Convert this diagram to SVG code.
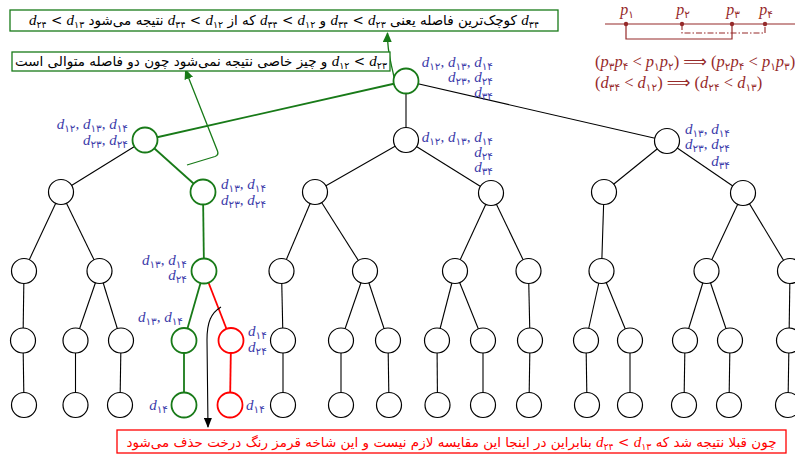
<svg xmlns="http://www.w3.org/2000/svg" width="795" height="456" viewBox="0 0 795 456">
  <style>
    .e { stroke: #000; stroke-width: 1.1; fill: none; }
    .eg { stroke: #187a18; stroke-width: 1.8; fill: none; }
    .er { stroke: #ff0000; stroke-width: 1.8; fill: none; }
    .n { fill: #fff; stroke: #000; stroke-width: 1.2; }
    .ng { fill: #fff; stroke: #187a18; stroke-width: 1.8; }
    .nr { fill: #fff; stroke: #ff0000; stroke-width: 1.8; }
    .lb { fill: #3c3caa; font-family: "Liberation Serif", serif; font-size: 15px; }
    .dk { fill: #962a2a; font-family: "Liberation Serif", serif; font-size: 16px; }
    .fx { font-size: 16.5px; }
    .fx .s { font-size: 10.5px; baseline-shift: -2.5px; }
    .d { font-style: italic; }
    .s { font-family: "DejaVu Sans", sans-serif; font-size: 10.5px; baseline-shift: -3px; }
    .fa { font-family: "DejaVu Sans", sans-serif; font-size: 13.5px; fill: #000; }
    .fm { font-family: "Liberation Serif", serif; font-style: italic; font-size: 15px; }
    .fs { font-family: "DejaVu Sans", sans-serif; font-size: 9.5px; baseline-shift: -3px; font-style: normal; }
    .box-g { fill: #fff; stroke: #187a18; stroke-width: 1.3; }
    .box-r { fill: #fff; stroke: #ff0000; stroke-width: 1.3; }
  </style>
  <defs>
    <marker id="ahG" markerUnits="userSpaceOnUse" markerWidth="10" markerHeight="9" refX="9" refY="4.5" orient="auto">
      <path d="M0,0 L10,4.5 L0,9 z" fill="#187a18"/>
    </marker>
    <marker id="ahK" markerUnits="userSpaceOnUse" markerWidth="10" markerHeight="8" refX="9" refY="4" orient="auto">
      <path d="M0,0 L10,4 L0,8 z" fill="#000"/>
    </marker>
  </defs>

  <rect width="795" height="456" fill="#fff"/>

  <!-- tree edges -->
  <g id="edges">
    <line class="e" x1="406" y1="81" x2="406" y2="140"/>
    <line class="e" x1="406" y1="81" x2="667" y2="141"/>
    <line class="e" x1="145" y1="140" x2="61" y2="192"/>
    <line class="e" x1="406" y1="140" x2="315" y2="192"/>
    <line class="e" x1="406" y1="140" x2="491" y2="193"/>
    <line class="e" x1="667" y1="141" x2="604" y2="192"/>
    <line class="e" x1="667" y1="141" x2="743" y2="193"/>
    <line class="e" x1="61" y1="192" x2="24" y2="271"/>
    <line class="e" x1="61" y1="192" x2="99.5" y2="271"/>
    <line class="e" x1="315" y1="192" x2="281.5" y2="271"/>
    <line class="e" x1="315" y1="192" x2="365" y2="271"/>
    <line class="e" x1="491" y1="193" x2="455" y2="271"/>
    <line class="e" x1="491" y1="193" x2="528.5" y2="271"/>
    <line class="e" x1="604" y1="192" x2="601.5" y2="271"/>
    <line class="e" x1="743" y1="193" x2="706.5" y2="271"/>
    <line class="e" x1="743" y1="193" x2="790" y2="271"/>
    <line class="e" x1="24" y1="271" x2="23" y2="340.5"/>
    <line class="e" x1="99.5" y1="271" x2="75.5" y2="340.5"/>
    <line class="e" x1="99.5" y1="271" x2="121" y2="340.5"/>
    <line class="e" x1="281.5" y1="271" x2="283" y2="340.5"/>
    <line class="e" x1="365" y1="271" x2="341" y2="340.5"/>
    <line class="e" x1="365" y1="271" x2="388" y2="340.5"/>
    <line class="e" x1="455" y1="271" x2="437" y2="340.5"/>
    <line class="e" x1="455" y1="271" x2="483" y2="340.5"/>
    <line class="e" x1="528.5" y1="271" x2="530" y2="340.5"/>
    <line class="e" x1="601.5" y1="271" x2="586" y2="340.5"/>
    <line class="e" x1="601.5" y1="271" x2="630" y2="340.5"/>
    <line class="e" x1="706.5" y1="271" x2="685" y2="340.5"/>
    <line class="e" x1="706.5" y1="271" x2="730" y2="340.5"/>
    <line class="e" x1="790" y1="271" x2="789" y2="340.5"/>
    <line class="e" x1="23" y1="340.5" x2="24" y2="405"/>
    <line class="e" x1="75.5" y1="340.5" x2="75.5" y2="405"/>
    <line class="e" x1="121" y1="340.5" x2="120" y2="405"/>
    <line class="e" x1="283" y1="340.5" x2="283" y2="405"/>
    <line class="e" x1="341" y1="340.5" x2="341" y2="405"/>
    <line class="e" x1="388" y1="340.5" x2="389" y2="405"/>
    <line class="e" x1="437" y1="340.5" x2="437.5" y2="405"/>
    <line class="e" x1="483" y1="340.5" x2="483" y2="405"/>
    <line class="e" x1="530" y1="340.5" x2="529" y2="405"/>
    <line class="e" x1="586" y1="340.5" x2="587" y2="405"/>
    <line class="e" x1="630" y1="340.5" x2="630" y2="405"/>
    <line class="e" x1="685" y1="340.5" x2="684" y2="405"/>
    <line class="e" x1="730" y1="340.5" x2="729" y2="405"/>
    <line class="e" x1="789" y1="340.5" x2="788" y2="405"/>
    <!-- explored path -->
    <line class="eg" x1="406" y1="81" x2="145" y2="140"/>
    <line class="eg" x1="145" y1="140" x2="203" y2="192"/>
    <line class="eg" x1="203" y1="192" x2="204" y2="271"/>
    <line class="eg" x1="204" y1="271" x2="184" y2="340.5"/>
    <line class="eg" x1="184" y1="340.5" x2="184" y2="405"/>
    <!-- pruned branch -->
    <line class="er" x1="204" y1="271" x2="231" y2="340.5"/>
    <line class="er" x1="231" y1="340.5" x2="230" y2="405"/>
  </g>

  <!-- nodes -->
  <g id="n-root"><circle class="ng" cx="406" cy="81" r="12.5"/></g>
  <g id="n-1a"><circle class="ng" cx="145" cy="140" r="12.5"/></g>
  <g id="n-1b"><circle class="n" cx="406" cy="140" r="12.5"/></g>
  <g id="n-1c"><circle class="n" cx="667" cy="141" r="12.5"/></g>
  <g id="n-2a"><circle class="n" cx="61" cy="192" r="12.5"/></g>
  <g id="n-2b"><circle class="ng" cx="203" cy="192" r="12.5"/></g>
  <g id="n-2c"><circle class="n" cx="315" cy="192" r="12.5"/></g>
  <g id="n-2d"><circle class="n" cx="491" cy="193" r="12.5"/></g>
  <g id="n-2e"><circle class="n" cx="604" cy="192" r="12.5"/></g>
  <g id="n-2f"><circle class="n" cx="743" cy="193" r="12.5"/></g>
  <g id="n-3a"><circle class="n" cx="24" cy="271" r="12.5"/></g>
  <g id="n-3b"><circle class="n" cx="99.5" cy="271" r="12.5"/></g>
  <g id="n-3c"><circle class="ng" cx="204" cy="271" r="12.5"/></g>
  <g id="n-3d"><circle class="n" cx="281.5" cy="271" r="12.5"/></g>
  <g id="n-3e"><circle class="n" cx="365" cy="271" r="12.5"/></g>
  <g id="n-3f"><circle class="n" cx="455" cy="271" r="12.5"/></g>
  <g id="n-3g"><circle class="n" cx="528.5" cy="271" r="12.5"/></g>
  <g id="n-3h"><circle class="n" cx="601.5" cy="271" r="12.5"/></g>
  <g id="n-3i"><circle class="n" cx="706.5" cy="271" r="12.5"/></g>
  <g id="n-3j"><circle class="n" cx="790" cy="271" r="12.5"/></g>
  <g id="n-4a"><circle class="n" cx="23" cy="340.5" r="12.5"/></g>
  <g id="n-4b"><circle class="n" cx="75.5" cy="340.5" r="12.5"/></g>
  <g id="n-4c"><circle class="n" cx="121" cy="340.5" r="12.5"/></g>
  <g id="n-4d"><circle class="ng" cx="184" cy="340.5" r="12.5"/></g>
  <g id="n-4e"><circle class="nr" cx="231" cy="340.5" r="12.5"/></g>
  <g id="n-4f"><circle class="n" cx="283" cy="340.5" r="12.5"/></g>
  <g id="n-4g"><circle class="n" cx="341" cy="340.5" r="12.5"/></g>
  <g id="n-4h"><circle class="n" cx="388" cy="340.5" r="12.5"/></g>
  <g id="n-4i"><circle class="n" cx="437" cy="340.5" r="12.5"/></g>
  <g id="n-4j"><circle class="n" cx="483" cy="340.5" r="12.5"/></g>
  <g id="n-4k"><circle class="n" cx="530" cy="340.5" r="12.5"/></g>
  <g id="n-4l"><circle class="n" cx="586" cy="340.5" r="12.5"/></g>
  <g id="n-4m"><circle class="n" cx="630" cy="340.5" r="12.5"/></g>
  <g id="n-4n"><circle class="n" cx="685" cy="340.5" r="12.5"/></g>
  <g id="n-4o"><circle class="n" cx="730" cy="340.5" r="12.5"/></g>
  <g id="n-4p"><circle class="n" cx="789" cy="340.5" r="12.5"/></g>
  <g id="n-5a"><circle class="n" cx="24" cy="405" r="12.5"/></g>
  <g id="n-5b"><circle class="n" cx="75.5" cy="405" r="12.5"/></g>
  <g id="n-5c"><circle class="n" cx="120" cy="405" r="12.5"/></g>
  <g id="n-5d"><circle class="ng" cx="184" cy="405" r="12.5"/></g>
  <g id="n-5e"><circle class="nr" cx="230" cy="405" r="12.5"/></g>
  <g id="n-5f"><circle class="n" cx="283" cy="405" r="12.5"/></g>
  <g id="n-5g"><circle class="n" cx="341" cy="405" r="12.5"/></g>
  <g id="n-5h"><circle class="n" cx="389" cy="405" r="12.5"/></g>
  <g id="n-5i"><circle class="n" cx="437.5" cy="405" r="12.5"/></g>
  <g id="n-5j"><circle class="n" cx="483" cy="405" r="12.5"/></g>
  <g id="n-5k"><circle class="n" cx="529" cy="405" r="12.5"/></g>
  <g id="n-5l"><circle class="n" cx="587" cy="405" r="12.5"/></g>
  <g id="n-5m"><circle class="n" cx="630" cy="405" r="12.5"/></g>
  <g id="n-5n"><circle class="n" cx="684" cy="405" r="12.5"/></g>
  <g id="n-5o"><circle class="n" cx="729" cy="405" r="12.5"/></g>
  <g id="n-5p"><circle class="n" cx="788" cy="405" r="12.5"/></g>

  <!-- remaining-distance labels -->
  <g id="labels">
    <text class="lb" x="493" y="67" text-anchor="end"><tspan class="d">d</tspan><tspan class="s">۱۲</tspan>, <tspan class="d">d</tspan><tspan class="s">۱۳</tspan>, <tspan class="d">d</tspan><tspan class="s">۱۴</tspan></text>
    <text class="lb" x="493" y="82" text-anchor="end"><tspan class="d">d</tspan><tspan class="s">۲۳</tspan>, <tspan class="d">d</tspan><tspan class="s">۲۴</tspan></text>
    <text class="lb" x="493" y="97" text-anchor="end"><tspan class="d">d</tspan><tspan class="s">۳۴</tspan></text>

    <text class="lb" x="493" y="142" text-anchor="end"><tspan class="d">d</tspan><tspan class="s">۱۲</tspan>, <tspan class="d">d</tspan><tspan class="s">۱۳</tspan>, <tspan class="d">d</tspan><tspan class="s">۱۴</tspan></text>
    <text class="lb" x="493" y="157" text-anchor="end"><tspan class="d">d</tspan><tspan class="s">۲۴</tspan></text>
    <text class="lb" x="493" y="172" text-anchor="end"><tspan class="d">d</tspan><tspan class="s">۳۴</tspan></text>

    <text class="lb" x="128" y="129" text-anchor="end"><tspan class="d">d</tspan><tspan class="s">۱۲</tspan>, <tspan class="d">d</tspan><tspan class="s">۱۳</tspan>, <tspan class="d">d</tspan><tspan class="s">۱۴</tspan></text>
    <text class="lb" x="128" y="145" text-anchor="end"><tspan class="d">d</tspan><tspan class="s">۲۳</tspan>, <tspan class="d">d</tspan><tspan class="s">۲۴</tspan></text>

    <text class="lb" x="730" y="134" text-anchor="end"><tspan class="d">d</tspan><tspan class="s">۱۳</tspan>, <tspan class="d">d</tspan><tspan class="s">۱۴</tspan></text>
    <text class="lb" x="730" y="149" text-anchor="end"><tspan class="d">d</tspan><tspan class="s">۲۳</tspan>, <tspan class="d">d</tspan><tspan class="s">۲۴</tspan></text>
    <text class="lb" x="730" y="166" text-anchor="end"><tspan class="d">d</tspan><tspan class="s">۳۴</tspan></text>

    <text class="lb" x="221" y="189"><tspan class="d">d</tspan><tspan class="s">۱۳</tspan>, <tspan class="d">d</tspan><tspan class="s">۱۴</tspan></text>
    <text class="lb" x="221" y="205"><tspan class="d">d</tspan><tspan class="s">۲۳</tspan>, <tspan class="d">d</tspan><tspan class="s">۲۴</tspan></text>

    <text class="lb" x="187" y="265" text-anchor="end"><tspan class="d">d</tspan><tspan class="s">۱۳</tspan>, <tspan class="d">d</tspan><tspan class="s">۱۴</tspan></text>
    <text class="lb" x="187" y="280" text-anchor="end"><tspan class="d">d</tspan><tspan class="s">۲۴</tspan></text>

    <text class="lb" x="183" y="322" text-anchor="end"><tspan class="d">d</tspan><tspan class="s">۱۳</tspan>, <tspan class="d">d</tspan><tspan class="s">۱۴</tspan></text>

    <text class="lb" x="248" y="336"><tspan class="d">d</tspan><tspan class="s">۱۴</tspan></text>
    <text class="lb" x="248" y="352"><tspan class="d">d</tspan><tspan class="s">۲۴</tspan></text>

    <text class="lb" x="168" y="410" text-anchor="end"><tspan class="d">d</tspan><tspan class="s">۱۴</tspan></text>
    <text class="lb" x="246" y="410"><tspan class="d">d</tspan><tspan class="s">۱۴</tspan></text>
  </g>

  <!-- annotation connectors -->
  <g id="connectors">
    <path class="eg" style="stroke-width:1.3" d="M394,77 C391,62 387,52 387.5,33" marker-end="url(#ahG)"/>
    <path class="eg" style="stroke-width:1.3" d="M187,165 L215,156.5 Q219,155 217.5,151 L185.5,70" marker-end="url(#ahG)"/>
    <path class="e" d="M221,307 C211,313 207,322 207,340 L208,427" marker-end="url(#ahK)"/>
  </g>

  <!-- note boxes -->
  <g id="note-top">
    <rect class="box-g" x="10" y="10" width="548" height="21"/>
    <text class="fa" x="284" y="25" direction="rtl" text-anchor="middle"><tspan class="fm">d</tspan><tspan class="fs">۳۴</tspan> کوچک‌ترین فاصله یعنی <tspan class="fm">d</tspan><tspan class="fs">۳۴</tspan> &lt; <tspan class="fm">d</tspan><tspan class="fs">۲۳</tspan> و <tspan class="fm">d</tspan><tspan class="fs">۳۴</tspan> &lt; <tspan class="fm">d</tspan><tspan class="fs">۱۲</tspan> که از <tspan class="fm">d</tspan><tspan class="fs">۳۴</tspan> &lt; <tspan class="fm">d</tspan><tspan class="fs">۱۲</tspan> نتیجه می‌شود <tspan class="fm">d</tspan><tspan class="fs">۲۴</tspan> &lt; <tspan class="fm">d</tspan><tspan class="fs">۱۳</tspan></text>
  </g>
  <g id="note-mid">
    <rect class="box-g" x="12" y="52" width="378" height="19"/>
    <text class="fa" x="201" y="66" direction="rtl" text-anchor="middle"><tspan class="fm">d</tspan><tspan class="fs">۱۲</tspan> &lt; <tspan class="fm">d</tspan><tspan class="fs">۲۳</tspan> و چیز خاصی نتیجه نمی‌شود چون دو فاصله متوالی است</text>
  </g>
  <g id="note-bottom">
    <rect class="box-r" x="117" y="430" width="669" height="23"/>
    <text class="fa" x="451.5" y="446.5" direction="rtl" text-anchor="middle" style="fill:#ff0000">چون قبلا نتیجه شد که <tspan class="fm">d</tspan><tspan class="fs">۲۴</tspan> &lt; <tspan class="fm">d</tspan><tspan class="fs">۱۳</tspan> بنابراین در اینجا این مقایسه لازم نیست و این شاخه قرمز رنگ درخت حذف می‌شود</text>
  </g>

  <!-- points on a line -->
  <g id="points">
    <line x1="605" y1="24" x2="795" y2="24" stroke="#962a2a" stroke-width="1.2"/>
    <path d="M626,24 V39 H732 V24" fill="none" stroke="#962a2a" stroke-width="1.2"/>
    <path d="M682,24 V33 H765 V24" fill="none" stroke="#962a2a" stroke-width="1.1" stroke-dasharray="6 2 1.5 2"/>
    <circle cx="626" cy="24" r="2.2" fill="#962a2a"/>
    <circle cx="682" cy="24" r="2.2" fill="#962a2a"/>
    <circle cx="732" cy="24" r="2.2" fill="#962a2a"/>
    <circle cx="765" cy="24" r="2.2" fill="#962a2a"/>
    <text class="dk" x="627" y="15" text-anchor="middle"><tspan class="d">p</tspan><tspan class="s">۱</tspan></text>
    <text class="dk" x="683" y="15" text-anchor="middle"><tspan class="d">p</tspan><tspan class="s">۲</tspan></text>
    <text class="dk" x="733" y="15" text-anchor="middle"><tspan class="d">p</tspan><tspan class="s">۳</tspan></text>
    <text class="dk" x="766" y="15" text-anchor="middle"><tspan class="d">p</tspan><tspan class="s">۴</tspan></text>
    <text class="dk fx" x="595" y="67">(<tspan class="d">p</tspan><tspan class="s">۳</tspan><tspan class="d">p</tspan><tspan class="s">۴</tspan> &lt; <tspan class="d">p</tspan><tspan class="s">۱</tspan><tspan class="d">p</tspan><tspan class="s">۲</tspan>) <tspan style="font-family:'DejaVu Sans',sans-serif">⟹</tspan> (<tspan class="d">p</tspan><tspan class="s">۲</tspan><tspan class="d">p</tspan><tspan class="s">۴</tspan> &lt; <tspan class="d">p</tspan><tspan class="s">۱</tspan><tspan class="d">p</tspan><tspan class="s">۳</tspan>)</text>
    <text class="dk fx" x="595" y="88">(<tspan class="d">d</tspan><tspan class="s">۳۴</tspan> &lt; <tspan class="d">d</tspan><tspan class="s">۱۲</tspan>) <tspan style="font-family:'DejaVu Sans',sans-serif">⟹</tspan> (<tspan class="d">d</tspan><tspan class="s">۲۴</tspan> &lt; <tspan class="d">d</tspan><tspan class="s">۱۳</tspan>)</text>
  </g>
</svg>
